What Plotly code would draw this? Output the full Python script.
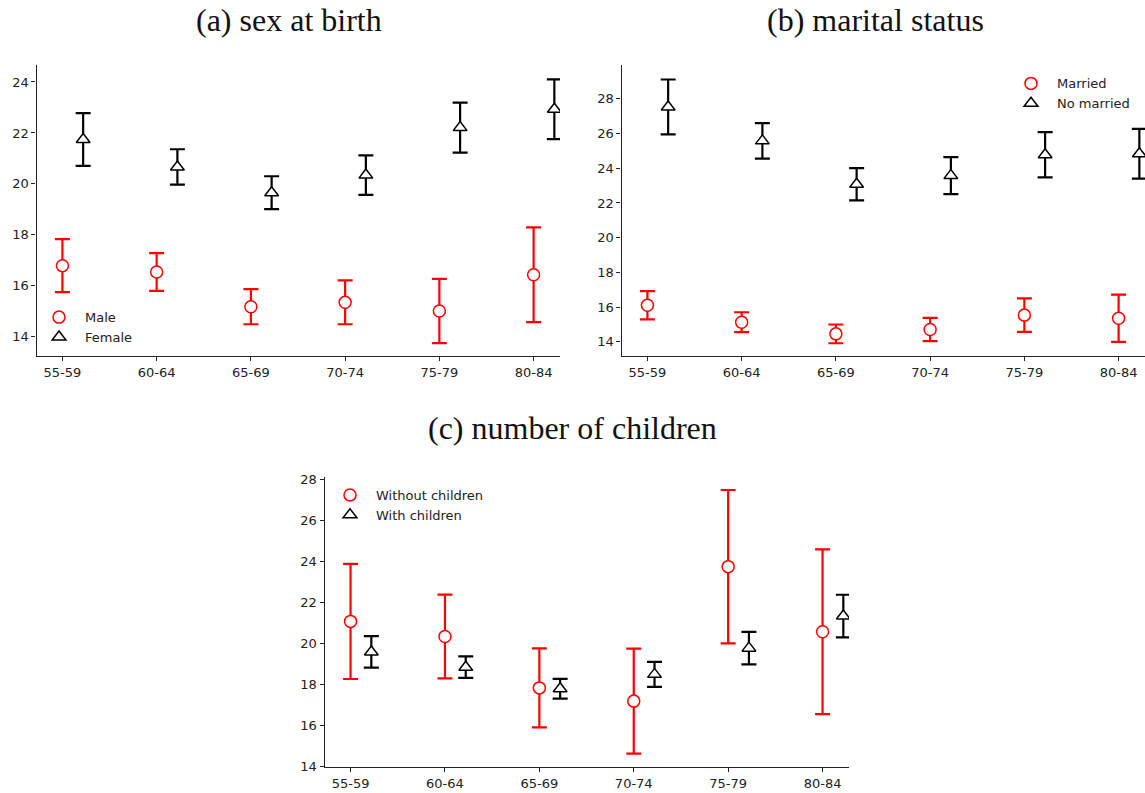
import plotly.graph_objects as go

W, H = 1145, 793

age_groups = ["55-59", "60-64", "65-69", "70-74", "75-79", "80-84"]

# (a) sex at birth
male_mean = [16.79, 16.54, 15.18, 15.35, 15.01, 16.43]
male_err = [1.04, 0.74, 0.69, 0.86, 1.26, 1.86]
female_mean = [21.745, 20.665, 19.655, 20.345, 22.21, 22.93]
female_err = [1.035, 0.695, 0.645, 0.775, 0.98, 1.17]

# (b) marital status
married_mean = [16.11, 15.13, 14.46, 14.71, 15.54, 15.36]
married_err = [0.815, 0.575, 0.54, 0.67, 0.97, 1.36]
nomarried_mean = [27.53, 25.575, 23.08, 23.575, 24.775, 24.835]
nomarried_err = [1.58, 1.025, 0.93, 1.065, 1.305, 1.435]

# (c) number of children
without_mean = [21.10, 20.365, 17.855, 17.21, 23.77, 20.595]
without_err = [2.81, 2.045, 1.925, 2.56, 3.74, 4.015]
with_mean = [19.61, 18.865, 17.815, 18.515, 19.795, 21.36]
with_err = [0.77, 0.525, 0.485, 0.605, 0.795, 1.04]

OFFSET = 0.22
x_red = list(range(len(age_groups)))
x_black = [i + OFFSET for i in x_red]

fig = go.Figure()


def add_pair(xa, ya, legend, red_name, red_mean, red_err, blk_name, blk_mean, blk_err):
    fig.add_trace(go.Scatter(
        x=x_red, y=red_mean, mode="markers", name=red_name,
        xaxis=xa, yaxis=ya, legend=legend,
        error_y=dict(type="data", array=red_err, visible=True, color="#ff0000",
                     thickness=2.2, width=7.5),
        marker=dict(symbol="circle", size=12, color="white",
                    line=dict(color="#ff0000", width=1.5)),
    ))
    fig.add_trace(go.Scatter(
        x=x_black, y=blk_mean, mode="markers", name=blk_name,
        xaxis=xa, yaxis=ya, legend=legend,
        error_y=dict(type="data", array=blk_err, visible=True, color="#000000",
                     thickness=2.2, width=7.5),
        marker=dict(symbol="triangle-up", size=12, color="white",
                    line=dict(color="#000000", width=1.5)),
    ))


add_pair("x", "y", "legend", "Male", male_mean, male_err, "Female", female_mean, female_err)
add_pair("x2", "y2", "legend2", "Married", married_mean, married_err,
         "No married", nomarried_mean, nomarried_err)
add_pair("x3", "y3", "legend3", "Without children", without_mean, without_err,
         "With children", with_mean, with_err)

tick_font = dict(family="DejaVu Sans", size=13, color="#222222")


def xaxis(domain, anchor):
    return dict(domain=domain, anchor=anchor, range=[-0.275, 5.28],
                tickmode="array", tickvals=x_red, ticktext=age_groups,
                showline=True, linecolor="#222222", linewidth=1.2,
                ticks="outside", ticklen=4, tickcolor="#222222",
                showgrid=False, zeroline=False, tickfont=tick_font)


def yaxis(domain, anchor, rng, dtick):
    return dict(domain=domain, anchor=anchor, range=rng, dtick=dtick,
                showline=True, linecolor="#222222", linewidth=1.2,
                ticks="outside", ticklen=4, tickcolor="#222222",
                showgrid=False, zeroline=False, tickfont=tick_font)


def px_x(p):
    return p / W


# vertical placement correction observed in the rendering pipeline
def px_y(p):
    return 1 - ((p - 3.5) / 0.986) / H


legend_font = dict(family="DejaVu Sans", size=13, color="#222222")
LW = 42

fig.update_layout(
    width=W, height=H,
    margin=dict(l=0, r=0, t=0, b=0),
    paper_bgcolor="white", plot_bgcolor="white",
    xaxis=xaxis([px_x(36.5), px_x(560)], "y"),
    yaxis=yaxis([px_y(356), px_y(65)], "x", [13.24, 24.65], 2),
    xaxis2=xaxis([px_x(621.5), 1.0], "y2"),
    yaxis2=yaxis([px_y(356), px_y(65)], "x2", [13.18, 29.92], 2),
    xaxis3=xaxis([px_x(324.6), px_x(849)], "y3"),
    yaxis3=yaxis([px_y(767.3), px_y(476.7)], "x3", [14, 28.16], 2),
    legend=dict(x=px_x(33), y=px_y(302), xanchor="left", yanchor="top",
                bgcolor="rgba(0,0,0,0)", font=legend_font, tracegroupgap=0,
                itemwidth=LW),
    legend2=dict(x=px_x(1005), y=px_y(68), xanchor="left", yanchor="top",
                 bgcolor="rgba(0,0,0,0)", font=legend_font, tracegroupgap=0,
                 itemwidth=LW),
    legend3=dict(x=px_x(324), y=px_y(480), xanchor="left", yanchor="top",
                 bgcolor="rgba(0,0,0,0)", font=legend_font, tracegroupgap=0,
                 itemwidth=LW),
    showlegend=True,
)

title_font = dict(family="Liberation Serif", size=32, color="#111111")
titles = [("(a) sex at birth", 289, 20), ("(b) marital status", 875, 20),
          ("(c) number of children", 572, 428)]
for text, cx, cy in titles:
    fig.add_annotation(text=text, x=px_x(cx), y=px_y(cy), xref="paper", yref="paper",
                       xanchor="center", yanchor="middle", showarrow=False,
                       font=title_font)

fig.write_html(
    "out.html",
    config={"displayModeBar": False},
    post_script="document.body.style.margin='0px';document.body.style.overflow='hidden';",
)
